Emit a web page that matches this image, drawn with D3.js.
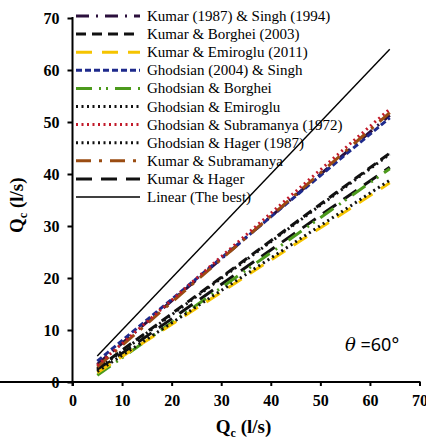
<!DOCTYPE html>
<html>
<head>
<meta charset="utf-8">
<script src="https://cdn.jsdelivr.net/npm/d3@7"></script>
<style>
  body { margin: 0; background: #fff; }
  svg { display: block; }
</style>
</head>
<body>
<div id="chart"></div>
<script>
// measured Qc (l/s) at the two ends of each line
const xValues = [5, 64];

// computed Qc (l/s)
const kumarSingh       = [3.4, 51.3];
const kumarBorghei     = [2.6, 44.0];
const kumarEmiroglu    = [1.8, 38.3];
const ghodsianSingh    = [4.0, 50.8];
const ghodsianBorghei  = [1.3, 41.0];
const ghodsianEmiroglu = [2.4, 43.8];
const ghodsianSubram   = [3.2, 52.5];
const ghodsianHager    = [2.0, 38.8];
const kumarSubram      = [2.9, 51.8];
const kumarHager       = [2.2, 41.3];
const linearBest       = [5, 64];

const seriesNames = [
  'Kumar (1987) & Singh (1994)',
  'Kumar & Borghei (2003)',
  'Kumar & Emiroglu (2011)',
  'Ghodsian (2004) & Singh',
  'Ghodsian & Borghei',
  'Ghodsian & Emiroglu',
  'Ghodsian & Subramanya (1972)',
  'Ghodsian & Hager (1987)',
  'Kumar & Subramanya',
  'Kumar & Hager',
  'Linear (The best)'
];
const seriesValues = [kumarSingh, kumarBorghei, kumarEmiroglu, ghodsianSingh, ghodsianBorghei,
  ghodsianEmiroglu, ghodsianSubram, ghodsianHager, kumarSubram, kumarHager, linearBest];

const xTicks = [0, 10, 20, 30, 40, 50, 60, 70];
const yTicks = [0, 10, 20, 30, 40, 50, 60, 70];

// line styles, same order as the names
const styles = [
  {color: '#2b0f3c', dash: '13,7,2,7', w: 3},
  {color: '#111111', dash: '10,6', w: 3},
  {color: '#f5c400', dash: '16,10', w: 3},
  {color: '#1e2a8c', dash: '6,3', w: 3},
  {color: '#4c9a1c', dash: '16,7,2,5,2,7', w: 3},
  {color: '#111111', dash: '2,3.5', w: 3},
  {color: '#c21a2a', dash: '2,3.5', w: 3},
  {color: '#111111', dash: '2,3.5', w: 3},
  {color: '#9a4c12', dash: '15,8,3,8', w: 3},
  {color: '#111111', dash: '16,9', w: 3},
  {color: '#000000', dash: null, w: 1.4}
];

const serif = 'Liberation Serif, serif';

const width = 426, height = 439;
const svg = d3.select('#chart').append('svg')
  .attr('width', width)
  .attr('height', height);

const x = d3.scaleLinear().domain([0, 70]).range([72.5, 419.5]);
const y = d3.scaleLinear().domain([0, 70]).range([382, 18]);

const line = d3.line()
  .x(d => x(d[0]))
  .y(d => y(d[1]));

// data lines, drawn so the first-named series ends up near the top
const drawOrder = [1, 5, 9, 4, 2, 7, 0, 3, 8, 6, 10];
drawOrder.forEach(i => {
  const pts = xValues.map((xv, k) => [xv, seriesValues[i][k]]);
  svg.append('path')
    .datum(pts)
    .attr('d', line)
    .attr('fill', 'none')
    .attr('stroke', styles[i].color)
    .attr('stroke-width', styles[i].w)
    .attr('stroke-dasharray', styles[i].dash);
});

// axes
const xAxis = svg.append('g')
  .attr('transform', `translate(0,${y(0)})`)
  .call(d3.axisBottom(x).tickValues(xTicks).tickSize(4).tickSizeOuter(0).tickPadding(9));
const yAxis = svg.append('g')
  .attr('transform', `translate(${x(0)},0)`)
  .call(d3.axisLeft(y).tickValues(yTicks).tickSize(5).tickSizeOuter(0).tickPadding(8));

[xAxis, yAxis].forEach(a => {
  a.attr('font-family', serif).attr('font-size', 16).attr('font-weight', 'bold');
  a.select('.domain').attr('stroke', '#000').attr('stroke-width', 2);
  a.selectAll('.tick line').attr('stroke', '#000').attr('stroke-width', 2);
  a.selectAll('.tick text').attr('fill', '#000');
});
yAxis.select('.domain').attr('d', `M0,${y(70) - 1}V${y(0) + 4}`);
xAxis.select('.domain').attr('d', `M-4,0H${x(70) + 1}`);

// axis titles
function qcTitle(g) {
  g.attr('font-family', serif)
    .attr('font-size', 19)
    .attr('font-weight', 'bold')
    .attr('text-anchor', 'middle')
    .attr('fill', '#000');
  const t = g.append('text');
  t.append('tspan').text('Q');
  t.append('tspan').attr('font-size', 12).attr('dy', 4).text('c');
  t.append('tspan').attr('dy', -4).text(' (l/s)');
}
svg.append('g').attr('transform', `translate(${x(34.5)},433)`).call(qcTitle);
svg.append('g').attr('transform', `translate(23,${y(34)}) rotate(-90)`).call(qcTitle);

// legend
const legend = svg.append('g')
  .attr('font-family', serif)
  .attr('font-size', 15);
seriesNames.forEach((name, i) => {
  const ly = 16 + i * 18.1;
  legend.append('line')
    .attr('x1', 76).attr('x2', 140)
    .attr('y1', ly).attr('y2', ly)
    .attr('stroke', styles[i].color)
    .attr('stroke-width', i === 10 ? 1.4 : 3)
    .attr('stroke-dasharray', styles[i].dash);
  legend.append('text')
    .attr('x', 147).attr('y', ly + 5)
    .attr('fill', '#000')
    .text(name);
});

// angle note
const note = svg.append('text')
  .attr('x', 345).attr('y', 351)
  .attr('font-family', 'Noto Sans, sans-serif')
  .attr('font-size', 18)
  .attr('fill', '#000');
note.append('tspan').attr('font-style', 'italic').attr('font-family', 'DejaVu Serif, serif').text('θ');
note.append('tspan').text(' =60°');
</script>
</body>
</html>
